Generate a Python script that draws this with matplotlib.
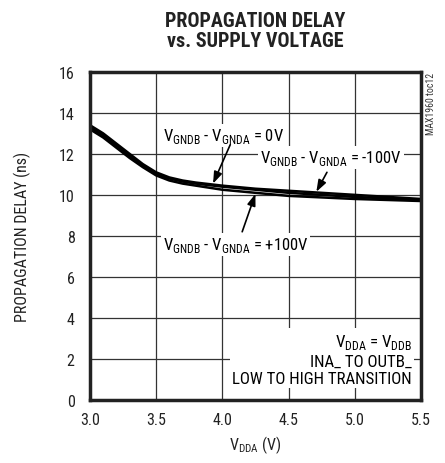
import matplotlib
matplotlib.use("Agg")
import matplotlib.pyplot as plt

plt.rcParams['font.family'] = ['Roboto Condensed', 'DejaVu Sans']
plt.rcParams['mathtext.fontset'] = 'custom'
plt.rcParams['mathtext.rm'] = 'Roboto Condensed'

# supply voltage (V) and propagation delay (ns) for each VGNDB - VGNDA
vdda = [3.0, 3.1, 3.2, 3.3, 3.4, 3.5, 3.6, 3.7, 3.8, 4.0, 4.25, 4.5, 5.0, 5.5]
delay_0v = [13.3, 12.9, 12.4, 11.9, 11.4, 11.0, 10.8, 10.65, 10.55, 10.4, 10.25, 10.1, 9.9, 9.75]
delay_m100v = [13.4, 13.0, 12.5, 12.0, 11.5, 11.1, 10.85, 10.7, 10.6, 10.45, 10.3, 10.2, 10.0, 9.8]
delay_p100v = [13.2, 12.8, 12.3, 11.8, 11.35, 10.95, 10.7, 10.55, 10.45, 10.25, 10.1, 9.95, 9.8, 9.7]

xticks = [3.0, 3.5, 4.0, 4.5, 5.0, 5.5]
yticks = [0, 2, 4, 6, 8, 10, 12, 14, 16]

fig = plt.figure(figsize=(4.45, 4.64), dpi=100)
ax = fig.add_axes([0.202, 0.136, 0.744, 0.707])

for d in (delay_m100v, delay_0v, delay_p100v):
    ax.plot(vdda, d, color='black', lw=1.8, solid_capstyle='butt')

ax.set_xlim(3.0, 5.5)
ax.set_ylim(0, 16)
ax.set_xticks(xticks)
ax.set_xticklabels(['%.1f' % t for t in xticks])
ax.set_yticks(yticks)
ax.grid(True, color='#333333', lw=0.9)
ax.set_axisbelow(True)
ax.tick_params(length=0, labelsize=11.5, colors='#222222')
ax.tick_params(axis='x', pad=9)
ax.tick_params(axis='y', pad=11)
for s in ax.spines.values():
    s.set_linewidth(2.5)
    s.set_color('#222222')

ax.set_xlabel(r'V$_{\mathrm{DDA}}$ (V)', fontsize=11.5, color='#222222', labelpad=4)
ax.set_ylabel('PROPAGATION DELAY (ns)', fontsize=11.5, color='#222222', labelpad=20)

fig.text(0.574, 0.975, 'PROPAGATION DELAY\nvs. SUPPLY VOLTAGE', ha='center', va='top',
         fontsize=14.5, fontweight='bold', linespacing=1.1, color='#222222')
fig.text(0.968, 0.843, 'MAX1960 toc12', rotation=90, ha='center', va='top',
         fontsize=7, color='#333333')

box = dict(facecolor='white', edgecolor='none', pad=1.5)
arrow = dict(arrowstyle='-|>,head_length=0.7,head_width=0.25', color='black', lw=1.2,
             shrinkA=0, shrinkB=0)

ax.text(4.01, 12.9, r'V$_{\mathrm{GNDB}}$ - V$_{\mathrm{GNDA}}$ = 0V', ha='center', va='center',
        fontsize=12, bbox=box, zorder=4)
ax.annotate('', xy=(3.93, 10.55), xytext=(4.06, 12.45), arrowprops=arrow, zorder=5)

ax.text(4.82, 11.8, r'V$_{\mathrm{GNDB}}$ - V$_{\mathrm{GNDA}}$ = -100V', ha='center', va='center',
        fontsize=12, bbox=box, zorder=4)
ax.annotate('', xy=(4.71, 10.15), xytext=(4.79, 11.1), arrowprops=arrow, zorder=5)

ax.text(4.1, 7.6, r'V$_{\mathrm{GNDB}}$ - V$_{\mathrm{GNDA}}$ = +100V', ha='center', va='center',
        fontsize=12, bbox=box, zorder=4)
ax.annotate('', xy=(4.25, 10.05), xytext=(4.15, 8.2), arrowprops=arrow, zorder=5)

ax.text(5.43, 2.0, 'V$_{\\mathrm{DDA}}$ = V$_{\\mathrm{DDB}}$\nINA_ TO OUTB_\nLOW TO HIGH TRANSITION',
        ha='right', va='center', fontsize=12.2, linespacing=1.2, bbox=box, zorder=4)

fig.savefig('out.png', dpi=100)
